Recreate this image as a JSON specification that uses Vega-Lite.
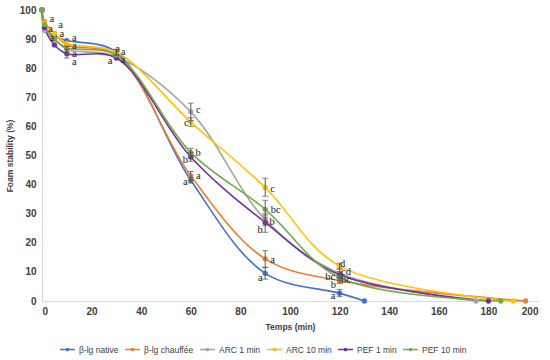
{
  "$schema": "https://vega.github.io/schema/vega-lite/v6.json",
  "autosize": {"type": "none"},
  "width": 496,
  "height": 291,
  "padding": {"left": 42, "top": 10, "right": 12, "bottom": 59},
  "background": "white",
  "config": {
    "view": {"stroke": null},
    "font": "Liberation Sans",
    "axis": {"grid": false, "ticks": false, "labelOverlap": false, "domainColor": "#D9D9D9", "labelFont": "Liberation Sans", "labelFontWeight": "bold", "labelFontSize": 10, "labelColor": "#404040", "titleFont": "Liberation Sans", "titleFontWeight": "bold", "titleFontSize": 8.5, "titleColor": "#404040"},
    "axisY": {"tickCount": 11}
  },
  "datasets": {
    "series": [
      {"series": "β-lg native", "t": 0, "v": 100},
      {"series": "β-lg native", "t": 1, "v": 94},
      {"series": "β-lg native", "t": 5, "v": 91},
      {"series": "β-lg native", "t": 10, "v": 89.5},
      {"series": "β-lg native", "t": 30, "v": 85.5, "lo": 84.5, "hi": 86.5},
      {"series": "β-lg native", "t": 60, "v": 41.5, "lo": 40.5, "hi": 42.5},
      {"series": "β-lg native", "t": 90, "v": 9.5, "lo": 7.5, "hi": 11.6},
      {"series": "β-lg native", "t": 120, "v": 2.7, "lo": 1.5, "hi": 4},
      {"series": "β-lg native", "t": 130, "v": 0},
      {"series": "β-lg chauffée", "t": 0, "v": 100},
      {"series": "β-lg chauffée", "t": 1, "v": 96},
      {"series": "β-lg chauffée", "t": 5, "v": 92},
      {"series": "β-lg chauffée", "t": 10, "v": 88},
      {"series": "β-lg chauffée", "t": 30, "v": 84.5},
      {"series": "β-lg chauffée", "t": 60, "v": 43, "lo": 41.5, "hi": 44.5},
      {"series": "β-lg chauffée", "t": 90, "v": 14.5, "lo": 11.5, "hi": 17.3},
      {"series": "β-lg chauffée", "t": 120, "v": 7, "lo": 6, "hi": 8},
      {"series": "β-lg chauffée", "t": 195, "v": 0},
      {"series": "ARC 1 min", "t": 0, "v": 100},
      {"series": "ARC 1 min", "t": 1, "v": 93},
      {"series": "ARC 1 min", "t": 5, "v": 90},
      {"series": "ARC 1 min", "t": 10, "v": 86.5, "lo": 85.5, "hi": 87.5},
      {"series": "ARC 1 min", "t": 30, "v": 84},
      {"series": "ARC 1 min", "t": 60, "v": 65, "lo": 62, "hi": 68},
      {"series": "ARC 1 min", "t": 90, "v": 28, "lo": 26, "hi": 30},
      {"series": "ARC 1 min", "t": 120, "v": 9.5, "lo": 8, "hi": 11},
      {"series": "ARC 1 min", "t": 175, "v": 0},
      {"series": "ARC 10 min", "t": 0, "v": 100},
      {"series": "ARC 10 min", "t": 1, "v": 95.5},
      {"series": "ARC 10 min", "t": 5, "v": 92},
      {"series": "ARC 10 min", "t": 10, "v": 88.5},
      {"series": "ARC 10 min", "t": 30, "v": 85.5, "lo": 84.5, "hi": 86.5},
      {"series": "ARC 10 min", "t": 60, "v": 61.5, "lo": 60, "hi": 63},
      {"series": "ARC 10 min", "t": 90, "v": 39, "lo": 36, "hi": 42.2},
      {"series": "ARC 10 min", "t": 120, "v": 12, "lo": 11, "hi": 13},
      {"series": "ARC 10 min", "t": 190, "v": 0},
      {"series": "PEF 1 min", "t": 0, "v": 100},
      {"series": "PEF 1 min", "t": 1, "v": 94},
      {"series": "PEF 1 min", "t": 5, "v": 88},
      {"series": "PEF 1 min", "t": 10, "v": 85, "lo": 83.5, "hi": 86.5},
      {"series": "PEF 1 min", "t": 30, "v": 83.5},
      {"series": "PEF 1 min", "t": 60, "v": 49.5, "lo": 48, "hi": 51},
      {"series": "PEF 1 min", "t": 90, "v": 27, "lo": 23.6, "hi": 28.8},
      {"series": "PEF 1 min", "t": 120, "v": 9, "lo": 8, "hi": 10},
      {"series": "PEF 1 min", "t": 180, "v": 0},
      {"series": "PEF 10 min", "t": 0, "v": 100},
      {"series": "PEF 10 min", "t": 1, "v": 95},
      {"series": "PEF 10 min", "t": 5, "v": 90},
      {"series": "PEF 10 min", "t": 10, "v": 87},
      {"series": "PEF 10 min", "t": 30, "v": 84.5},
      {"series": "PEF 10 min", "t": 60, "v": 51, "lo": 49.5, "hi": 52.5},
      {"series": "PEF 10 min", "t": 90, "v": 31.5, "lo": 29.5, "hi": 34.6},
      {"series": "PEF 10 min", "t": 120, "v": 8, "lo": 7, "hi": 9},
      {"series": "PEF 10 min", "t": 185, "v": 0}
    ],
    "letters": [
      {"t": 4, "v": 96.8, "label": "a"},
      {"t": 3.5, "v": 93.6, "label": "a"},
      {"t": 4, "v": 90.4, "label": "a"},
      {"t": 7.5, "v": 95, "label": "a"},
      {"t": 8, "v": 91.8, "label": "a"},
      {"t": 13, "v": 90.4, "label": "a"},
      {"t": 13, "v": 87.7, "label": "a"},
      {"t": 13, "v": 85, "label": "a"},
      {"t": 13, "v": 82.3, "label": "a"},
      {"t": 30.5, "v": 86.6, "label": "a"},
      {"t": 32.7, "v": 85.6, "label": "a"},
      {"t": 32.7, "v": 82.9, "label": "a"},
      {"t": 27.5, "v": 82.6, "label": "a"},
      {"t": 63, "v": 65.5, "label": "c"},
      {"t": 58.2, "v": 61, "label": "c"},
      {"t": 63, "v": 51, "label": "b"},
      {"t": 57.8, "v": 48.6, "label": "b"},
      {"t": 63, "v": 43, "label": "a"},
      {"t": 57.8, "v": 41, "label": "a"},
      {"t": 93, "v": 38.6, "label": "c"},
      {"t": 94.2, "v": 31.3, "label": "bc"},
      {"t": 92.8, "v": 27, "label": "b"},
      {"t": 88, "v": 24.5, "label": "b"},
      {"t": 93, "v": 14, "label": "a"},
      {"t": 88, "v": 8, "label": "a"},
      {"t": 121.2, "v": 12.6, "label": "d"},
      {"t": 122.6, "v": 9.9, "label": "cd"},
      {"t": 116.2, "v": 8.4, "label": "bc"},
      {"t": 122.6, "v": 7.2, "label": "bc"},
      {"t": 117.5, "v": 5.6, "label": "b"},
      {"t": 117.4, "v": 1.8, "label": "a"}
    ]
  },
  "layer": [
    {
      "data": {"name": "series"},
      "mark": {"type": "line", "interpolate": "catmull-rom", "strokeWidth": 1.6},
      "encoding": {
        "x": {"field": "t", "type": "quantitative", "scale": {"domain": [0, 200]}, "axis": {"values": [0, 20, 40, 60, 80, 100, 120, 140, 160, 180, 200], "title": "Temps (min)", "titlePadding": 6, "labelPadding": 5}},
        "y": {"field": "v", "type": "quantitative", "scale": {"domain": [0, 100]}, "axis": {"values": [0, 10, 20, 30, 40, 50, 60, 70, 80, 90, 100], "tickCount": 11, "title": "Foam stability (%)", "titlePadding": 5, "labelPadding": 6}},
        "color": {"field": "series", "type": "nominal",
          "scale": {"domain": ["β-lg native", "β-lg chauffée", "ARC 1 min", "ARC 10 min", "PEF 1 min", "PEF 10 min"], "range": ["#4472C4", "#ED7D31", "#A5A5A5", "#FFC000", "#7030A0", "#70AD47"]},
          "legend": {"orient": "none", "legendX": 17, "legendY": 331, "direction": "horizontal", "title": null,
            "symbolType": "M-1,0L1,0M-0.14,0a0.14,0.14 0 1,0 0.28,0a0.14,0.14 0 1,0 -0.28,0",
            "symbolSize": 225, "symbolStrokeWidth": 1.6, "labelFont": "Liberation Sans", "labelFontSize": 8.5, "labelColor": "#404040", "labelFontWeight": "normal", "columnPadding": 2, "labelOffset": 3}},
        "order": {"field": "t", "type": "quantitative"}
      }
    },
    {
      "data": {"name": "series"},
      "mark": {"type": "point", "filled": true, "opacity": 1, "size": 28},
      "encoding": {
        "x": {"field": "t", "type": "quantitative"},
        "y": {"field": "v", "type": "quantitative", "axis": {"values": [0, 10, 20, 30, 40, 50, 60, 70, 80, 90, 100], "title": "Foam stability (%)"}},
        "color": {"field": "series", "type": "nominal", "legend": null}
      }
    },
    {
      "data": {"name": "series"},
      "transform": [{"filter": "isValid(datum.lo)"}],
      "mark": {"type": "rule", "color": "#595959", "strokeWidth": 1},
      "encoding": {
        "x": {"field": "t", "type": "quantitative"},
        "y": {"field": "lo", "type": "quantitative", "axis": {"values": [0, 10, 20, 30, 40, 50, 60, 70, 80, 90, 100], "title": "Foam stability (%)"}},
        "y2": {"field": "hi"}
      }
    },
    {
      "data": {"name": "series"},
      "transform": [{"filter": "isValid(datum.lo)"}],
      "mark": {"type": "tick", "color": "#595959", "size": 6, "thickness": 1, "orient": "horizontal"},
      "encoding": {
        "x": {"field": "t", "type": "quantitative"},
        "y": {"field": "lo", "type": "quantitative", "axis": {"values": [0, 10, 20, 30, 40, 50, 60, 70, 80, 90, 100], "title": "Foam stability (%)"}}
      }
    },
    {
      "data": {"name": "series"},
      "transform": [{"filter": "isValid(datum.hi)"}],
      "mark": {"type": "tick", "color": "#595959", "size": 6, "thickness": 1, "orient": "horizontal"},
      "encoding": {
        "x": {"field": "t", "type": "quantitative"},
        "y": {"field": "hi", "type": "quantitative", "axis": {"values": [0, 10, 20, 30, 40, 50, 60, 70, 80, 90, 100], "title": "Foam stability (%)"}}
      }
    },
    {
      "data": {"name": "letters"},
      "mark": {"type": "text", "font": "Liberation Serif", "fontSize": 10.5, "color": "#222222", "baseline": "middle", "align": "center"},
      "encoding": {
        "x": {"field": "t", "type": "quantitative"},
        "y": {"field": "v", "type": "quantitative", "axis": {"values": [0, 10, 20, 30, 40, 50, 60, 70, 80, 90, 100], "title": "Foam stability (%)"}},
        "text": {"field": "label"}
      }
    }
  ]
}
